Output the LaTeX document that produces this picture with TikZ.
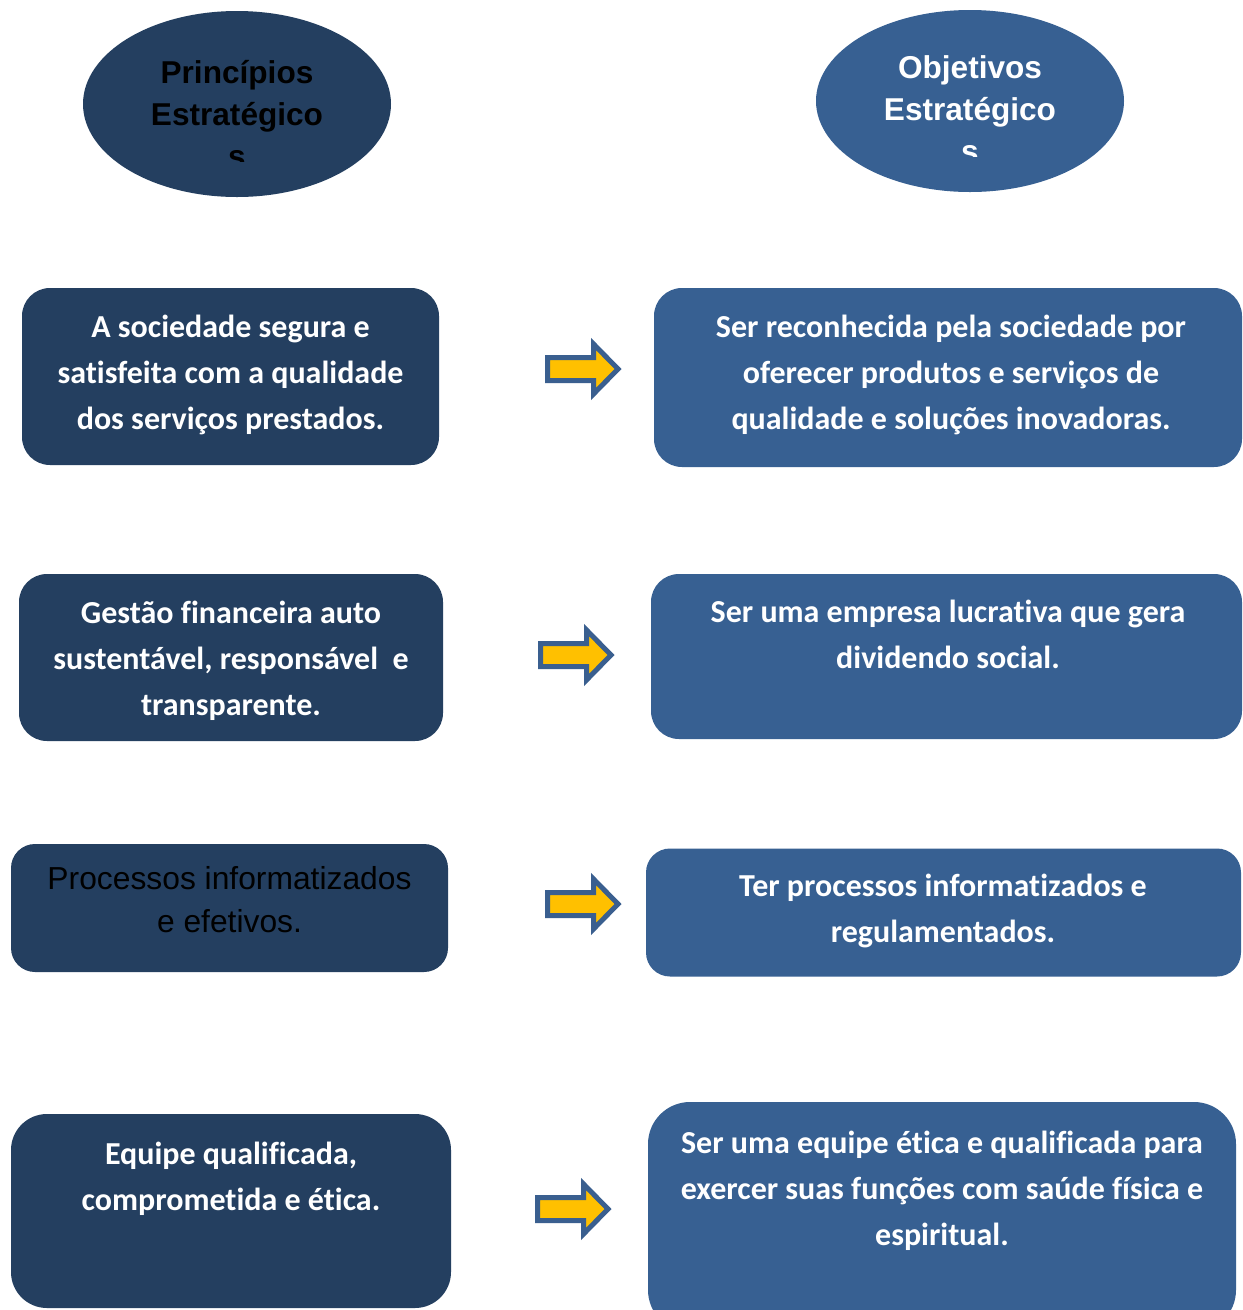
\documentclass[tikz,border=0pt]{standalone}
\usepackage{fontspec}
\usetikzlibrary{shapes.geometric}
\setmainfont{Carlito}[Ligatures=CommonOff]
\newfontfamily\arialf{Liberation Sans}
\definecolor{dkblue}{HTML}{243F60}
\definecolor{ltblue}{HTML}{376092}
\definecolor{arrowfill}{HTML}{FFC000}
\definecolor{arrowline}{HTML}{3A5F8F}
\tikzset{
  dkbox/.style={fill=dkblue, rounded corners=28pt, inner sep=0pt},
  ltbox/.style={fill=ltblue, rounded corners=28pt, inner sep=0pt},
  btext/.style={text=white, font=\fontsize{32}{46}\selectfont\bfseries, align=center, inner sep=0pt, anchor=base},
  etext/.style={font=\fontsize{31.6}{42}\selectfont\arialf\bfseries, align=center, inner sep=0pt, anchor=base},
  yarrowsty/.style={fill=arrowfill, draw=arrowline, line width=5pt, line join=miter},
  pics/yarrow/.style={code={
    \path[yarrowsty] (2.5,-11.5) -- (48.5,-11.5) -- (48.5,-25) -- (73,0) -- (48.5,25) -- (48.5,11.5) -- (2.5,11.5) -- cycle;
  }}
}
\begin{document}
\begin{tikzpicture}[x=1pt,y=-1pt]
\clip (0,0) rectangle (1243,1310);
\fill[white] (0,0) rectangle (1243,1310);
% ellipses
\node[ellipse, fill=dkblue, minimum width=308pt, minimum height=186pt, inner sep=0pt] (e1) at (237,104) {};
\node[ellipse, fill=ltblue, minimum width=308pt, minimum height=182pt, inner sep=0pt] (e2) at (970,101) {};
\begin{scope}
\clip (80,0) rectangle (400,161);
\node[etext, text=black] (e1t) at (237,167) {Princípios\\Estratégico\\s};
\end{scope}
\begin{scope}
\clip (800,0) rectangle (1140,156);
\node[etext, text=white] (e2t) at (970,162) {Objetivos\\Estratégico\\s};
\end{scope}
% left boxes
\node[dkbox, minimum width=417pt, minimum height=177pt] (l1) at (230.5,376.5) {};
\node[dkbox, minimum width=424pt, minimum height=167pt] (l2) at (231,657.5) {};
\node[dkbox, minimum width=437pt, minimum height=128pt, rounded corners=24pt] (l3) at (229.5,908) {};
\node[dkbox, minimum width=440pt, minimum height=194pt, rounded corners=36pt] (l4) at (231,1211) {};
% right boxes
\node[ltbox, minimum width=588pt, minimum height=179pt] (r1) at (948,377.5) {};
\node[ltbox, minimum width=591pt, minimum height=165pt] (r2) at (946.5,656.5) {};
\node[ltbox, minimum width=595pt, minimum height=128pt, rounded corners=24pt] (r3) at (943.5,912.5) {};
\node[ltbox, minimum width=588pt, minimum height=230pt, rounded corners=42pt] (r4) at (942,1217) {};
% texts
\node[btext] (l1t) at (230.5,429) {A sociedade segura e\\satisfeita com a qualidade\\dos serviços prestados.};
\node[btext] (l2t) at (231,715) {Gestão financeira auto\\sustentável, responsável\ \ e\\transparente.};
\node[font=\fontsize{31.8}{43}\selectfont\arialf, text=black, align=center, inner sep=0pt, anchor=base] (l3t) at (229.5,932) {Processos informatizados\\e efetivos.};
\node[btext] (l4t) at (231,1210) {Equipe qualificada,\\comprometida e ética.};
\node[btext] (r1t) at (951,429) {Ser reconhecida pela sociedade por\\oferecer produtos e serviços de\\qualidade e soluções inovadoras.};
\node[btext] (r2t) at (948,668) {Ser uma empresa lucrativa que gera\\dividendo social.};
\node[btext] (r3t) at (943,942) {Ter processos informatizados e\\regulamentados.};
\node[btext] (r4t) at (942,1245) {Ser uma equipe ética e qualificada para\\exercer suas funções com saúde física e\\espiritual.};
% arrows
\pic (a1) at (545,369) {yarrow};
\pic (a2) at (538,655) {yarrow};
\pic (a3) at (545,904) {yarrow};
\pic (a4) at (535,1209) {yarrow};
\end{tikzpicture}
\end{document}
